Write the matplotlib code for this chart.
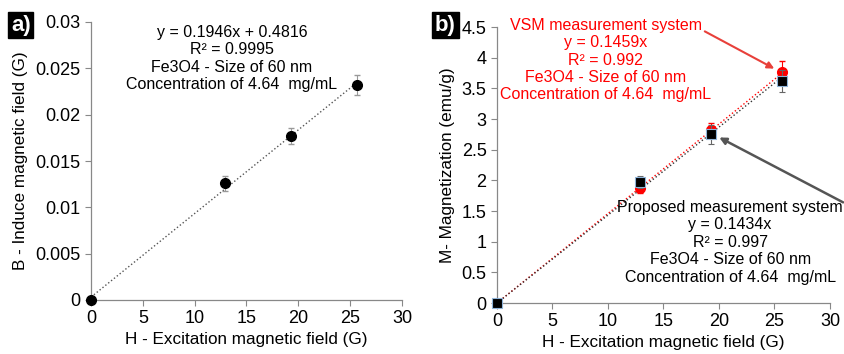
import numpy as np
import matplotlib.pyplot as plt

plt.rcParams['font.family'] = ['Liberation Sans', 'DejaVu Sans']

# excitation field H (G)
h_field = [0, 12.9, 19.3, 25.7]

# a) induced field B (G)
b_induced = [0, 0.0126, 0.0177, 0.0232]
b_err = [0, 0.0008, 0.0009, 0.0011]

# b) magnetization M (emu/g)
m_vsm = [0, 1.87, 2.82, 3.76]
m_vsm_err = [0, 0.08, 0.12, 0.18]
m_prop = [0, 1.97, 2.75, 3.62]
m_prop_err = [0, 0.10, 0.15, 0.18]

slope_vsm = 0.1459
slope_prop = 0.1434

fig = plt.figure(figsize=(8.45, 3.54), dpi=100)
W, H = 845, 354


def px_axes(l, t, r, b):
    return fig.add_axes([l / W, 1 - b / H, (r - l) / W, (b - t) / H])


def style(ax):
    for s in ['top', 'right']:
        ax.spines[s].set_visible(False)
    for s in ['left', 'bottom']:
        ax.spines[s].set_color('#888888')
        ax.spines[s].set_linewidth(0.9)
    ax.tick_params(direction='out', length=4, color='#888888', labelsize=13)
    ax.set_xlim(0, 30)
    ax.set_xticks(range(0, 31, 5))


# ---- a) ----
ax1 = px_axes(91, 22, 402, 300)
style(ax1)
ax1.set_ylim(0, 0.03)
ax1.set_yticks([0, 0.005, 0.01, 0.015, 0.02, 0.025, 0.03])
ax1.set_yticklabels(['0', '0.005', '0.01', '0.015', '0.02', '0.025', '0.03'])
k, c = np.polyfit(h_field, b_induced, 1)
xs = np.array([0, h_field[-1]])
ax1.plot(xs, k * xs + c, ls=':', color='#555555', lw=1)
ax1.errorbar(h_field, b_induced, yerr=b_err, fmt='o', color='black', ms=7,
             ecolor='#999999', elinewidth=0.8, capsize=2, clip_on=False, zorder=3)
ax1.set_xlabel('H - Excitation magnetic field (G)', fontsize=12.3, labelpad=3)
ax1.set_ylabel('B - Induce magnetic field (G)', fontsize=12.3, labelpad=5)
ax1.text(13.6, 0.0297, 'y = 0.1946x + 0.4816\nR² = 0.9995\nFe3O4 - Size of 60 nm\n'
         'Concentration of 4.64  mg/mL', ha='center', va='top', fontsize=11.5,
         linespacing=1.2)

# ---- b) ----
ax2 = px_axes(497, 27, 830, 303)
style(ax2)
ax2.set_ylim(0, 4.5)
ax2.set_yticks(np.arange(0, 4.51, 0.5))
ax2.set_yticklabels(['0', '0.5', '1', '1.5', '2', '2.5', '3', '3.5', '4', '4.5'])
xs = np.array([0, h_field[-1]])
ax2.plot(xs, slope_vsm * xs, ls=':', color='red', lw=1)
ax2.plot(xs, slope_prop * xs, ls=':', color='#333333', lw=1)
ax2.errorbar(h_field, m_vsm, yerr=m_vsm_err, fmt='o', color='red', ms=7,
             ecolor='red', elinewidth=0.8, capsize=2, clip_on=False, zorder=3)
ax2.errorbar(h_field, m_prop, yerr=m_prop_err, fmt='s', color='black', ms=7,
             mec='#8fb4d9', mew=0.8, ecolor='#666666', elinewidth=0.8, capsize=2,
             clip_on=False, zorder=4)
ax2.set_xlabel('H - Excitation magnetic field (G)', fontsize=12.3, labelpad=3)
ax2.set_ylabel('M- Magnetization (emu/g)', fontsize=12.3, labelpad=5)

ax2.text(9.8, 4.65, 'VSM measurement system\ny = 0.1459x\nR² = 0.992\n'
         'Fe3O4 - Size of 60 nm\nConcentration of 4.64  mg/mL', color='red',
         ha='center', va='top', fontsize=11.5, linespacing=1.2, clip_on=False)
ax2.text(21.0, 1.68, 'Proposed measurement system\ny = 0.1434x\nR² = 0.997\n'
         'Fe3O4 - Size of 60 nm\nConcentration of 4.64  mg/mL', color='black',
         ha='center', va='top', fontsize=11.5, linespacing=1.2, clip_on=False)
ax2.annotate('', xy=(25.2, 3.8), xytext=(18.5, 4.45),
             arrowprops=dict(arrowstyle='-|>', color='#e8403a', lw=1.5,
                             mutation_scale=10), annotation_clip=False)
ax2.annotate('', xy=(19.8, 2.72), xytext=(31.4, 1.62),
             arrowprops=dict(arrowstyle='-|>', color='#555555', lw=1.8,
                             mutation_scale=10), annotation_clip=False)

# panel tags
for x, tag in [(11, 'a)'), (435, 'b)')]:
    fig.text(x / W, 1 - 25 / H, tag, color='white', fontsize=16, fontweight='bold',
             va='center', ha='left',
             bbox=dict(boxstyle='square,pad=0.12', fc='black', ec='black'))

fig.savefig('out.png', dpi=100)
